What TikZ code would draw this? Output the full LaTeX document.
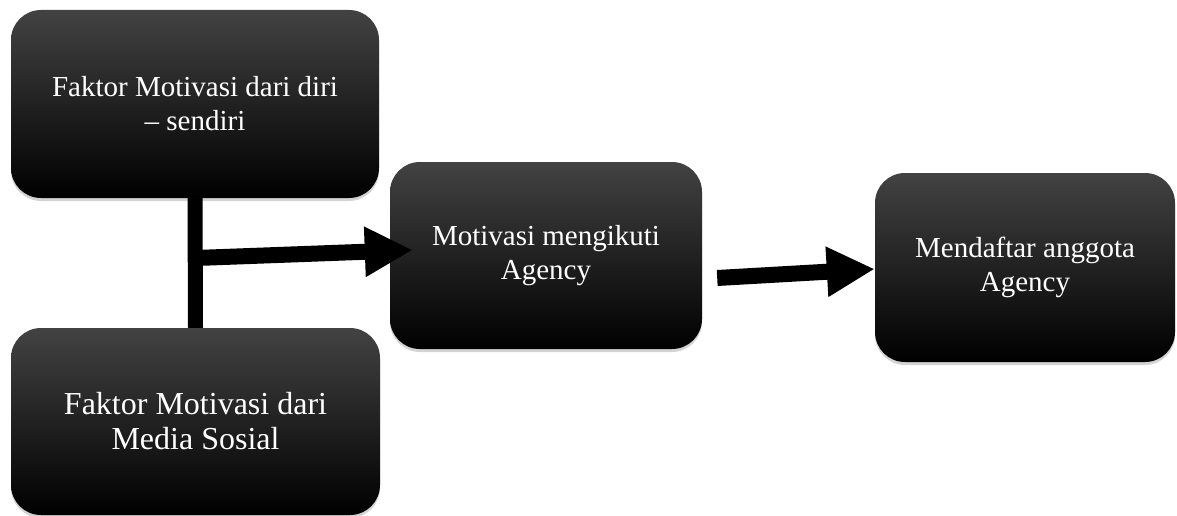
\documentclass[tikz,border=0pt]{standalone}
\usepackage{fontspec}
\setmainfont{Liberation Serif}
\usetikzlibrary{arrows.meta,shadows,calc}
\begin{document}
\begin{tikzpicture}[x=1pt,y=-1pt,
  box/.style={rounded corners=30pt, draw=none, text=white, align=center,
    top color=black!74, middle color=black, bottom color=black,
    drop shadow={opacity=0.35, shadow xshift=0pt, shadow yshift=-3pt},
    font=\fontsize{29}{34}\selectfont, inner sep=0pt},
  conn/.style={line width=16pt, black},
  tipd/.style={-{Triangle[length=48pt,width=47pt]}}
]
\useasboundingbox (0,0) rectangle (1177,516);
\node[box, minimum width=368pt, minimum height=188pt] (A) at (195,104)
  {Faktor Motivasi dari diri\\– sendiri};
\node[box, minimum width=369pt, minimum height=187pt, font=\fontsize{32}{35}\selectfont] (B) at (195.5,421.5)
  {Faktor Motivasi dari\\Media Sosial};
\node[box, minimum width=312pt, minimum height=187pt] (C) at (546,255.5)
  {Motivasi mengikuti\\Agency};
\node[box, minimum width=300pt, minimum height=189pt] (D) at (1025,267.5)
  {Mendaftar anggota\\Agency};
\draw[conn, line width=15pt] (A.south) -- (B.north);
\coordinate (j) at (196,258);
\coordinate (c1) at ($(C.west)+(23,-5.5)$);
\coordinate (c2) at ($(C.east)+(15,22.5)$);
\coordinate (d1) at ($(D.west)+(0,1.5)$);
\draw[conn, tipd] (j) -- (c1);
\draw[conn, tipd] (c2) -- (d1);
\end{tikzpicture}
\end{document}
